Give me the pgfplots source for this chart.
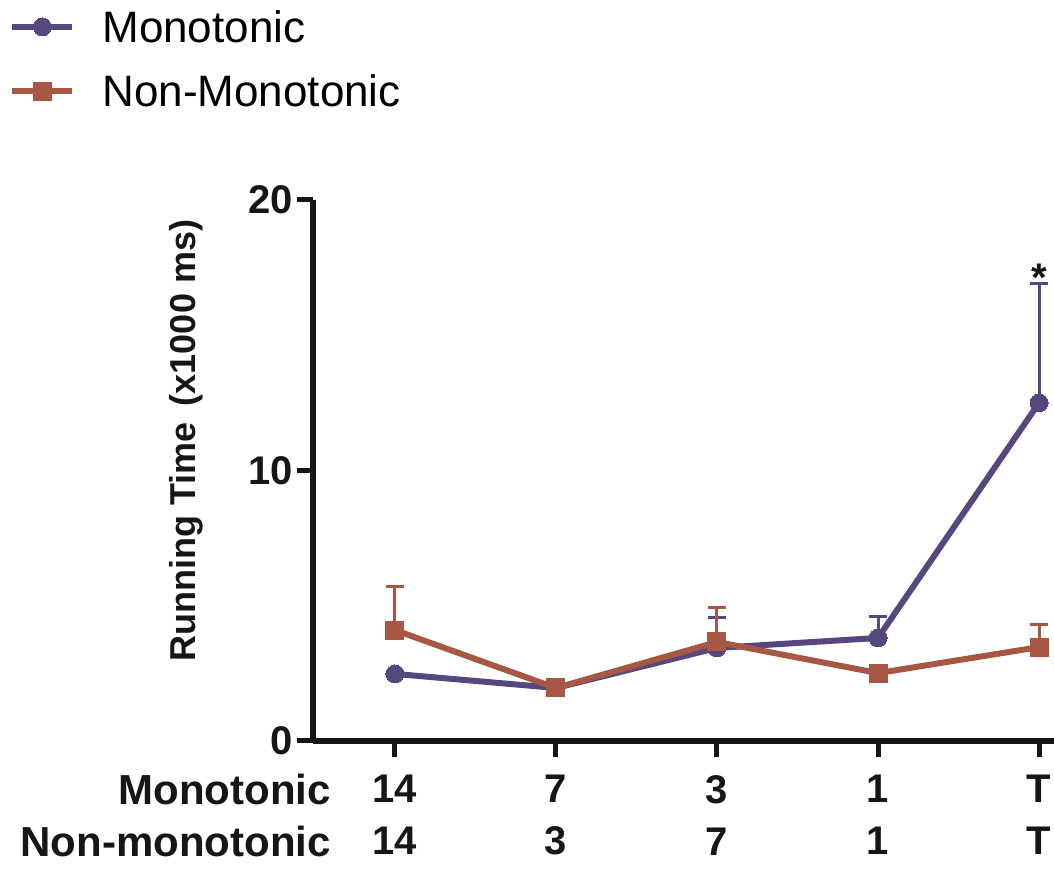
\documentclass[border=0pt]{standalone}
\usepackage{pgfplots}
\pgfplotsset{compat=1.18}
\usepackage{fontspec}
\setmainfont{Liberation Sans}
\definecolor{mono}{RGB}{86,72,126}
\definecolor{nonm}{RGB}{166,88,68}
\definecolor{ax}{RGB}{22,22,22}
\begin{document}
\begin{tikzpicture}
\useasboundingbox (0,0) rectangle (1054pt,869pt);
\begin{axis}[
  at={(313pt,128pt)}, anchor=south west,
  scale only axis, width=741pt, height=541pt,
  xmin=-0.509, xmax=4.093, ymin=0, ymax=20,
  clip=false,
  axis x line=bottom, axis y line=left,
  axis line style={-, line width=5.5pt, ax},
  xtick={0,1,2,3,4}, ytick={0,10,20},
  xticklabels={14\\14, 7\\3, 3\\7, 1\\1, T\\T},
  yticklabels={0,10,20},
  tick align=outside, major tick length=16pt,
  tick style={line width=5pt, ax},
  xticklabel style={align=center, font=\bfseries\fontsize{40}{52}\selectfont, inner sep=0pt, text=ax, yshift=-18pt},
  yticklabel style={font=\bfseries\fontsize{40}{48}\selectfont, inner sep=0pt, text=ax, xshift=-4pt},
  ylabel={Running Time\hspace{0.45em}(x1000 ms)},
  ylabel style={font=\bfseries\fontsize{36}{44}\selectfont, text=ax, at={(ticklabel cs:0.555)}},
  ylabel shift=42pt,
  legend style={at={(rel axis cs:-0.41,1.355)}, anchor=north west, draw=none, fill=none,
    inner sep=0pt, font=\fontsize{44}{52}\selectfont, row sep=27pt,
    /tikz/every odd column/.append style={column sep=25pt}},
  legend cell align=left,
  legend image code/.code={\draw[#1, mark repeat=2, mark phase=2] plot coordinates {(0pt,0pt) (30pt,0pt) (60pt,0pt)};},
  error bars/error bar style={line width=3pt},
  error bars/error mark options={rotate=90, mark size=9pt, line width=3pt},
]
\addplot[mono, line width=6pt, mark=*, mark size=9pt, mark options={solid, fill=mono, draw=mono, line width=0pt},
  error bars/.cd, y dir=plus, y explicit]
  coordinates {(0,2.48) +- (0,0) (1,1.96) +- (0,0) (2,3.44) +- (0,1.11) (3,3.81) +- (0,0.81) (4,12.5) +- (0,4.43)};
\addlegendentry{Monotonic}
\addplot[nonm, line width=6pt, mark=square*, mark size=9pt, mark options={solid, fill=nonm, draw=nonm, line width=0pt},
  error bars/.cd, y dir=plus, y explicit]
  coordinates {(0,4.10) +- (0,1.63) (1,1.96) +- (0,0) (2,3.66) +- (0,1.29) (3,2.51) +- (0,0) (4,3.47) +- (0,0.82)};
\addlegendentry{Non-Monotonic}
\node[font=\bfseries\fontsize{40}{48}\selectfont, anchor=base, inner sep=0pt, yshift=-8pt, text=ax] at (axis cs:4,16.93) {*};
\end{axis}
\node[anchor=base east, inner sep=0pt, font=\bfseries\fontsize{42}{52}\selectfont, text=ax] at (331pt,64pt) {Monotonic};
\node[anchor=base east, inner sep=0pt, font=\bfseries\fontsize{42}{52}\selectfont, text=ax] at (331pt,12pt) {Non-monotonic};
\end{tikzpicture}
\end{document}
